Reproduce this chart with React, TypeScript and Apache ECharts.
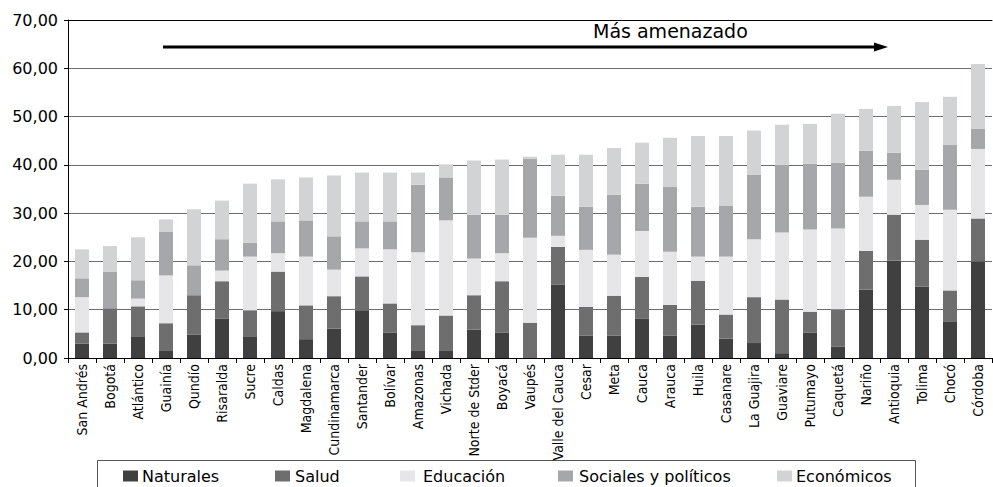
import React, { useEffect, useRef } from "react";
import * as echarts from "echarts";

const categories = [
  "San Andrés", "Bogotá", "Atlántico", "Guainía", "Qundío", "Risaralda", "Sucre", "Caldas",
  "Magdalena", "Cundinamarca", "Santander", "Bolívar", "Amazonas", "Vichada", "Norte de Stder",
  "Boyacá", "Vaupés", "Valle del Cauca", "Cesar", "Meta", "Cauca", "Arauca", "Huila", "Casanare",
  "La Guajira", "Guaviare", "Putumayo", "Caquetá", "Nariño", "Antioquia", "Tolima", "Chocó", "Córdoba",
];
const naturales = [3.0, 3.0, 4.5, 1.6, 4.8, 8.2, 4.5, 9.7, 3.9, 6.1, 9.9, 5.3, 1.6, 1.6, 5.9, 5.3, 0, 15.2, 4.6, 4.6, 8.1, 4.6, 6.9, 4.0, 3.1, 1.0, 5.3, 2.4, 14.2, 20.2, 14.8, 7.6, 20.0];
const salud = [2.3, 7.3, 6.2, 5.6, 8.2, 7.7, 5.4, 8.2, 7.0, 6.7, 7.0, 6.0, 5.2, 7.2, 7.1, 10.6, 7.3, 7.8, 6.0, 8.3, 8.7, 6.4, 9.1, 5.0, 9.5, 11.1, 4.3, 7.7, 8.0, 9.5, 9.7, 6.4, 8.9];
const educacion = [7.3, 0, 1.6, 9.9, 0, 2.2, 11.1, 3.8, 10.1, 5.5, 5.8, 11.2, 15.1, 19.7, 7.6, 5.8, 17.6, 2.3, 11.8, 8.5, 9.5, 11.0, 5.0, 12.0, 12.0, 13.9, 17.0, 16.7, 11.2, 7.2, 7.2, 16.7, 14.4];
const sociales = [3.9, 7.6, 3.8, 9.1, 6.2, 6.5, 2.9, 6.6, 7.5, 6.9, 5.6, 5.8, 14.0, 8.9, 9.1, 8.0, 16.3, 8.3, 8.9, 12.4, 9.8, 13.4, 10.3, 10.5, 13.4, 14.0, 13.6, 13.6, 9.5, 5.6, 7.3, 13.4, 4.2];
const economicos = [6.0, 5.3, 8.9, 2.5, 11.6, 8.0, 12.2, 8.7, 8.9, 12.6, 10.1, 10.1, 2.5, 2.7, 11.2, 11.4, 0.5, 8.5, 10.8, 9.7, 8.5, 10.2, 14.7, 14.5, 9.1, 8.3, 8.3, 10.2, 8.7, 9.7, 14.0, 10.0, 13.4];

const seriesNames = ["Naturales", "Salud", "Educación", "Sociales y políticos", "Económicos"];
const seriesData = [naturales, salud, educacion, sociales, economicos];
const colors = ["#404040", "#6e6e6e", "#e6e6e8", "#a6a7aa", "#d2d3d5"];
const title = "Más amenazado";

const FONT = "'DejaVu Sans', Verdana, sans-serif";
const COND = "'DejaVu Sans Condensed', 'Liberation Sans Narrow', 'Roboto Condensed', sans-serif";

// legend layout (swatch x, text x)
const legendSwatchX = [123, 275, 400, 558, 777];
const legendTextX = [142, 295, 423, 579, 796];

export default function App() {
  const ref = useRef<HTMLDivElement>(null);
  useEffect(() => {
    document.body.style.margin = "0";
    const chart = echarts.init(ref.current!, null, { renderer: "svg" });
    const legendGraphics: any[] = [
      {
        type: "polyline",
        shape: { points: [[97.5, 495], [97.5, 460.5], [915.5, 460.5], [915.5, 495]] },
        style: { stroke: "#555", lineWidth: 1, fill: null },
      },
    ];
    seriesNames.forEach((n, i) => {
      legendGraphics.push({
        type: "rect",
        shape: { x: legendSwatchX[i], y: 470.5, width: 15, height: 11 },
        style: { fill: colors[i] },
      });
      legendGraphics.push({
        type: "text",
        x: legendTextX[i],
        y: 476,
        style: { text: n, font: `16px ${FONT}`, fill: "#000", verticalAlign: "middle", align: "left" },
      });
    });
    chart.setOption({
      animation: false,
      grid: { left: 68, right: 1, top: 20, bottom: 129, containLabel: false },
      xAxis: [
        {
          type: "category",
          data: categories,
          axisLine: { lineStyle: { color: "#000", width: 1 } },
          axisTick: { show: true, length: 5, lineStyle: { color: "#000" } },
          axisLabel: {
            rotate: 90,
            interval: 0,
            margin: 6,
            color: "#000",
            fontSize: 14,
            fontFamily: COND,
          },
        },
        {
          type: "category",
          data: categories,
          position: "top",
          axisLine: { show: true, lineStyle: { color: "#000", width: 1 } },
          axisTick: { show: false },
          axisLabel: { show: false },
        },
      ],
      yAxis: {
        type: "value",
        min: 0,
        max: 70,
        interval: 10,
        axisLine: { show: true, lineStyle: { color: "#000" } },
        axisTick: { show: true, length: 4, lineStyle: { color: "#000" } },
        axisLabel: {
          color: "#000",
          fontSize: 16,
          fontFamily: FONT,
          margin: 10,
          formatter: (v: number) => v.toFixed(2).replace(".", ","),
        },
        splitLine: { show: true, lineStyle: { color: "#6e6e6e", width: 1 } },
      },
      series: seriesNames.map((n, i) => ({
        name: n,
        type: "bar",
        stack: "total",
        barWidth: 14,
        data: seriesData[i],
        itemStyle: { color: colors[i] },
      })),
      graphic: [
        {
          type: "line",
          shape: { x1: 163, y1: 47, x2: 877, y2: 47 },
          style: { stroke: "#000", lineWidth: 3 },
        },
        {
          type: "polygon",
          shape: { points: [[874, 42.5], [888, 47], [874, 51.5]] },
          style: { fill: "#000" },
        },
        {
          type: "text",
          x: 593,
          y: 31,
          style: { text: title, font: `19px ${FONT}`, fill: "#000", verticalAlign: "middle", align: "left" },
        },
        ...legendGraphics,
      ],
    });
    return () => chart.dispose();
  }, []);
  return <div ref={ref} style={{ width: 993, height: 487 }} />;
}
